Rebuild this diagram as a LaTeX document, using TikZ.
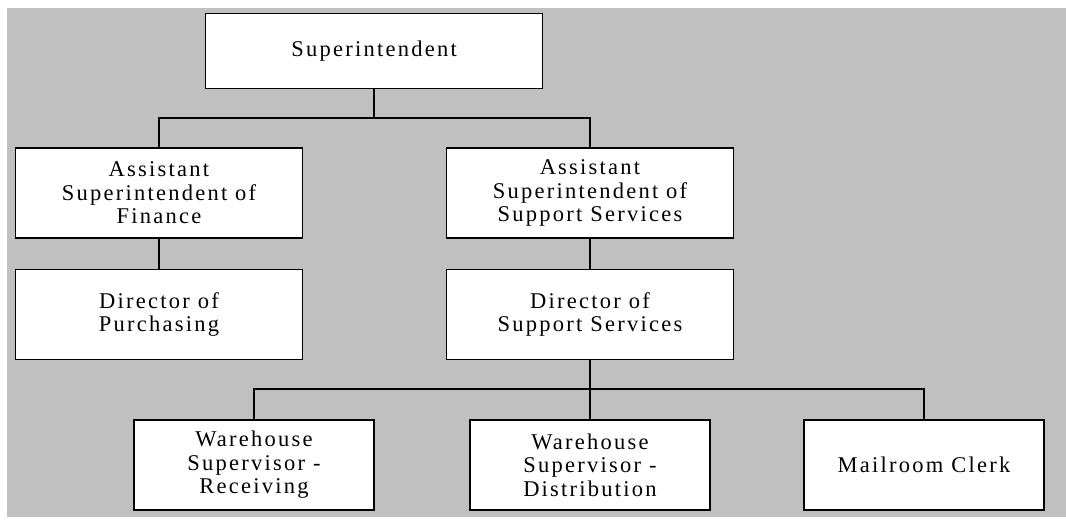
\documentclass[tikz,border=0pt]{standalone}
\usepackage{xcolor}
\usepackage{fontspec}
\setmainfont[LetterSpace=10]{Liberation Serif}
\usepackage{tikz}
\usetikzlibrary{positioning}
\definecolor{chartgray}{HTML}{C0C0C0}

\begin{document}
\begin{tikzpicture}[x=1pt, y=-1pt, line width=1.6pt,
    box/.style={draw, rectangle, fill=white, align=center, inner sep=0pt,
                font=\fontsize{22.5}{23.5}\selectfont},
    wide/.style={box, minimum width=287pt, minimum height=90pt},
    small/.style={box, minimum width=240pt, minimum height=90pt}]
            \useasboundingbox (0,0) rectangle (1066,525);
            \fill[chartgray] (7,8) rectangle (1066,517);

            \node[box, minimum width=337pt, minimum height=75pt] (sup) at (374,51) {Superintendent};
            \node[wide] (asstfin) at (159,193) {Assistant\\Superintendent of\\Finance};
            \node[wide] (asstsup) at (590,193) {Assistant\\Superintendent of\\Support Services};
            \node[wide, below=30pt of asstfin] (dirpur) {Director of\\Purchasing};
            \node[wide, below=30pt of asstsup] (dirsup) {Director of\\Support Services};
            \node[small] (whrec) at (254,465) {Warehouse\\Supervisor -\\Receiving};
            \node[small] (whdist) at (590,465) {Warehouse\\Supervisor -\\Distribution};
            \node[small] (mail) at (924,465) {Mailroom Clerk};

            \coordinate (bustop) at (374,118);
            \coordinate (buslow) at (590,389);

            \draw (sup) -- (bustop);
            \draw (asstfin.north) |- (bustop) -| (asstsup.north);
            \draw (asstfin) -- (dirpur);
            \draw (asstsup) -- (dirsup);
            \draw (dirsup.south) -- (buslow);
            \draw (whrec.north) |- (buslow) -| (mail.north);
            \draw (buslow) -- (whdist.north);
        \end{tikzpicture}
\end{document}
